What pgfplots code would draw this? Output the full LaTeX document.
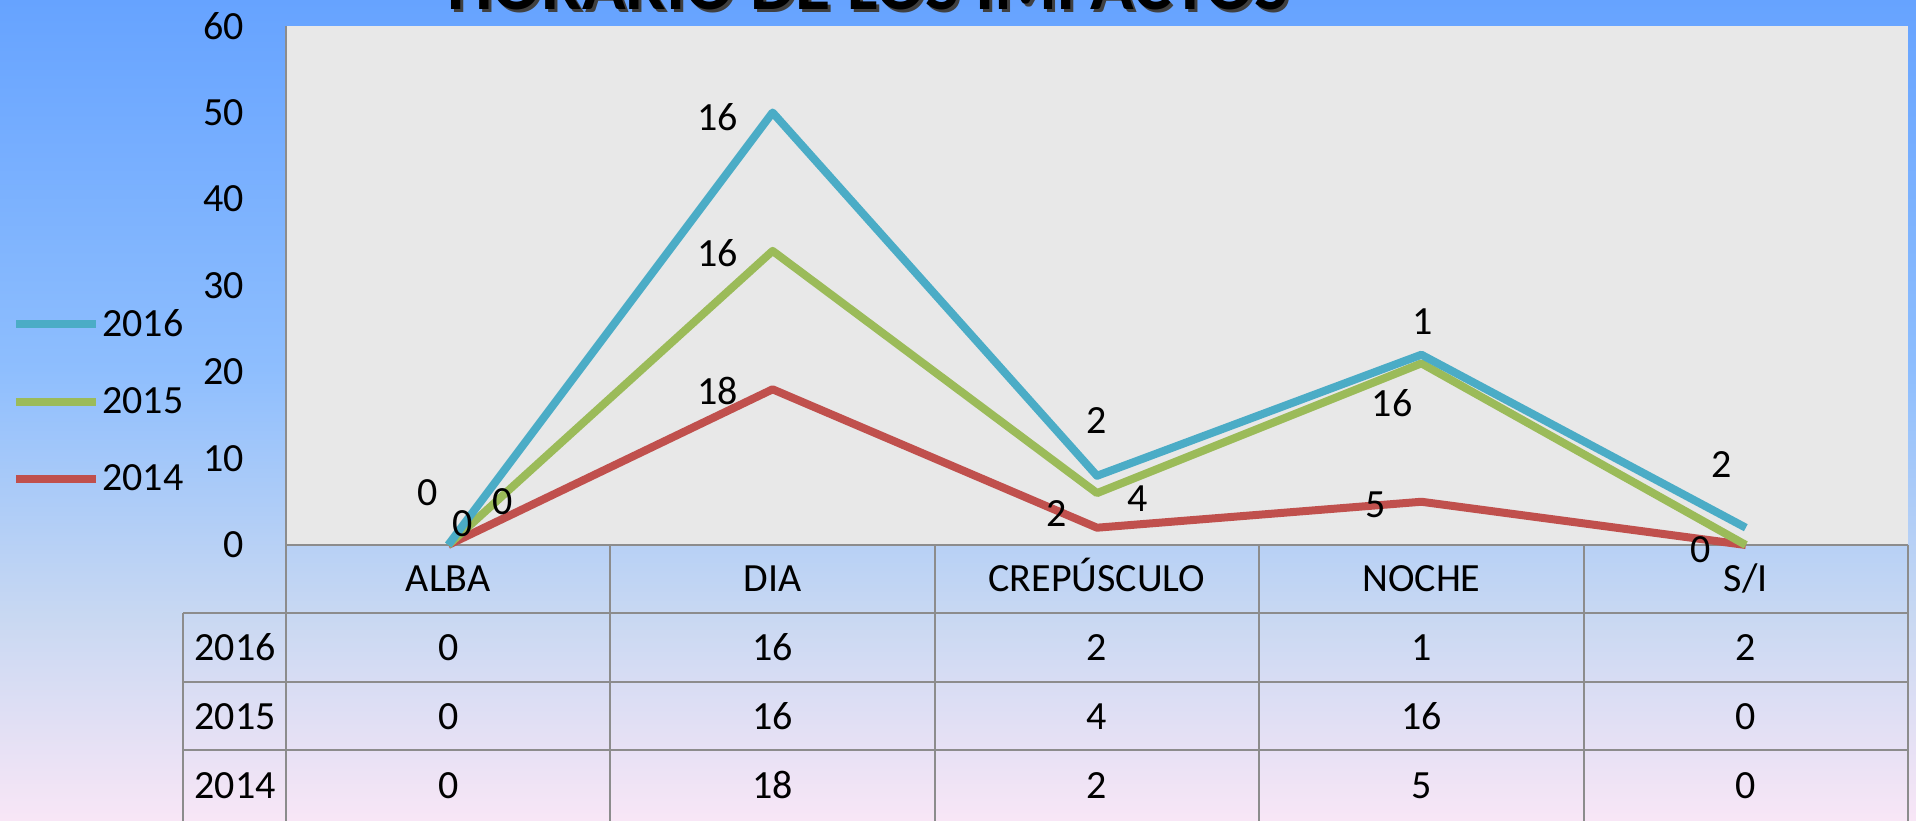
\documentclass[border=0pt]{standalone}
\usepackage{pgfplots}
\pgfplotsset{compat=1.18}
\usepackage{pgfplotstable}
\usepackage{fontspec}
\setmainfont{Carlito}
\definecolor{c16}{HTML}{4BACC6}
\definecolor{c15}{HTML}{9BBB59}
\definecolor{c14}{HTML}{C0504D}
\definecolor{bgA}{HTML}{F8E6F6}
\definecolor{bgB}{HTML}{C8D8F2}
\definecolor{bgC}{HTML}{8EBEFE}
\definecolor{bgD}{HTML}{66A3FF}
\definecolor{plotbg}{HTML}{E8E8E8}
\definecolor{linec}{HTML}{8C8C8C}
\pgfdeclareverticalshading{bgshade}{100bp}{color(0bp)=(bgA); color(25bp)=(bgA); color(37.5bp)=(bgB); color(52.5bp)=(bgC); color(75bp)=(bgD); color(100bp)=(bgD)}

\pgfplotstableread{
x a b c
0.5 0 0 0
1.5 18 16 16
2.5 2 4 2
3.5 5 16 1
4.5 0 0 2
}\data

\newcommand{\fs}{\fontsize{20}{24}\selectfont}
\tikzset{lab/.style={font=\fs, inner sep=0pt, text height=12.9pt, text depth=0pt}}

\begin{document}
\begin{tikzpicture}[x=1pt,y=1pt]
\useasboundingbox (0pt,0pt) rectangle (958pt,410pt);
\clip (0pt,0pt) rectangle (958pt,410pt);
\shade[shading=bgshade] (0pt,0pt) rectangle (958pt,410pt);
\node[font=\bfseries\fontsize{36}{40}\selectfont, anchor=base, text=black!75] at (435.5pt,403.5pt) {HORARIO DE LOS IMPACTOS};
\node[font=\bfseries\fontsize{36}{40}\selectfont, anchor=base] at (434pt,405pt) {HORARIO DE LOS IMPACTOS};
\begin{axis}[
  at={(143pt,137.5pt)}, anchor=south west,
  scale only axis, width=811pt, height=259.5pt,
  xmin=0, xmax=5, ymin=0, ymax=60,
  axis background/.style={fill=plotbg},
  axis x line*=bottom, axis y line*=left,
  axis line style={draw=linec, line width=1pt, -},
  xtick=\empty, ytick={0,10,...,60},
  major tick length=0pt,
  tick label style={font=\fs},
  /pgf/number format/assume math mode=true,
  yticklabel style={anchor=east, inner sep=0pt, xshift=-21pt},
  clip=false,
  legend style={at={(axis description cs:-0.169,0.277)}, anchor=west, draw=none, fill=none, font=\fs, row sep=22pt, inner sep=0pt, nodes={inner sep=1pt}},
  legend cell align=left,
  reverse legend,
  legend image code/.code={\draw[line width=4pt] (0pt,0pt) -- (40pt,0pt);},
]
\addplot+[stack plots=y, c14, line width=4pt, no markers, line join=round, solid] table[x=x,y=a]{\data};
\addlegendentry{2014}
\addplot+[stack plots=y, c15, line width=4pt, no markers, line join=round, solid] table[x=x,y=b]{\data};
\addlegendentry{2015}
\addplot+[stack plots=y, c16, line width=4pt, no markers, line join=round, solid] table[x=x,y=c]{\data};
\addlegendentry{2016}

\node[lab] at (axis cs:0.437,6.06) {0};
\node[lab] at (axis cs:1.331,49.4) {16};
\node[lab] at (axis cs:2.5,14.4) {2};
\node[lab] at (axis cs:3.503,25.8) {1};
\node[lab] at (axis cs:4.427,9.3) {2};
\node[lab] at (axis cs:0.543,2.5) {0};
\node[lab] at (axis cs:1.331,33.7) {16};
\node[lab] at (axis cs:2.624,5.35) {4};
\node[lab] at (axis cs:3.41,16.3) {16};
\node[lab] at (axis cs:0.667,5.07) {0};
\node[lab] at (axis cs:1.331,17.7) {18};
\node[lab] at (axis cs:2.376,3.66) {2};
\node[lab] at (axis cs:3.36,4.65) {5};
\node[lab] at (axis cs:4.36,-0.56) {0};

\draw[linec, line width=1pt] (axis cs:0,0) -- (axis cs:0,-32.5);
\draw[linec, line width=1pt] (axis cs:1,0) -- (axis cs:1,-32.5);
\draw[linec, line width=1pt] (axis cs:2,0) -- (axis cs:2,-32.5);
\draw[linec, line width=1pt] (axis cs:3,0) -- (axis cs:3,-32.5);
\draw[linec, line width=1pt] (axis cs:4,0) -- (axis cs:4,-32.5);
\draw[linec, line width=1pt] (axis cs:5,0) -- (axis cs:5,-32.5);
\draw[linec, line width=1pt] (axis cs:-0.317,-7.86) -- (axis cs:-0.317,-32.5);
\draw[linec, line width=1pt] (axis cs:-0.317,-7.86) -- (axis cs:5,-7.86);
\draw[linec, line width=1pt] (axis cs:-0.317,-15.84) -- (axis cs:5,-15.84);
\draw[linec, line width=1pt] (axis cs:-0.317,-23.7) -- (axis cs:5,-23.7);

\node[lab] at (axis cs:0.5,-3.9) {ALBA};
\node[lab] at (axis cs:1.5,-3.9) {DIA};
\node[lab] at (axis cs:2.5,-3.9) {CREPÚSCULO};
\node[lab] at (axis cs:3.5,-3.9) {NOCHE};
\node[lab] at (axis cs:4.5,-3.9) {S/I};
\node[lab] at (axis cs:-0.157,-11.9) {2016};
\node[lab] at (axis cs:-0.157,-19.8) {2015};
\node[lab] at (axis cs:-0.157,-27.8) {2014};
\node[lab] at (axis cs:0.5,-11.9) {0};
\node[lab] at (axis cs:1.5,-11.9) {16};
\node[lab] at (axis cs:2.5,-11.9) {2};
\node[lab] at (axis cs:3.5,-11.9) {1};
\node[lab] at (axis cs:4.5,-11.9) {2};
\node[lab] at (axis cs:0.5,-19.8) {0};
\node[lab] at (axis cs:1.5,-19.8) {16};
\node[lab] at (axis cs:2.5,-19.8) {4};
\node[lab] at (axis cs:3.5,-19.8) {16};
\node[lab] at (axis cs:4.5,-19.8) {0};
\node[lab] at (axis cs:0.5,-27.8) {0};
\node[lab] at (axis cs:1.5,-27.8) {18};
\node[lab] at (axis cs:2.5,-27.8) {2};
\node[lab] at (axis cs:3.5,-27.8) {5};
\node[lab] at (axis cs:4.5,-27.8) {0};
\end{axis}
\end{tikzpicture}
\end{document}
